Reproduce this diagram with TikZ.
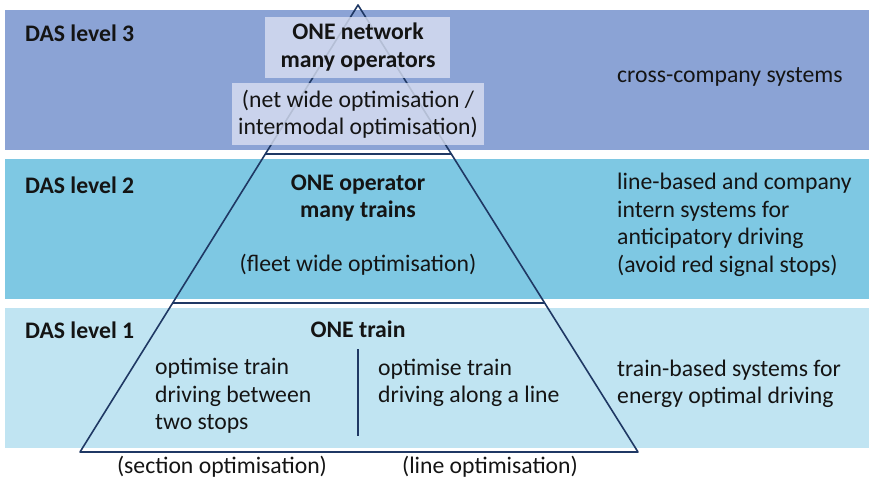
\documentclass[tikz,border=0pt]{standalone}
\usepackage{fontspec}
\setmainfont{Carlito}
\definecolor{bandthree}{RGB}{139,163,213}
\definecolor{bandtwo}{RGB}{126,200,227}
\definecolor{bandone}{RGB}{192,228,242}
\definecolor{boxfill}{RGB}{218,224,242}
\definecolor{navy}{RGB}{31,56,100}
\definecolor{txt}{RGB}{20,20,20}
\begin{document}
\begin{tikzpicture}[x=1pt,y=-1pt,
  lbl/.style={inner sep=0pt,text=txt,font=\fontsize{23.7}{27.5}\selectfont},
  blbl/.style={lbl,font=\fontsize{23.7}{27.5}\selectfont\bfseries},
  edge/.style={draw=navy,line width=1.6pt,line join=round}]
\useasboundingbox (0,0) rectangle (869,482);
% bands
\fill[bandthree] (5,10) rectangle (869,150);
\fill[bandtwo] (5,159) rectangle (869,299);
\fill[bandone] (5,308) rectangle (869,448);
% pyramid
\coordinate (apex) at (358,5);
\coordinate (bl) at (80,452);
\coordinate (br) at (638,452);
\coordinate (l3) at (265,154);
\coordinate (r3) at (451,154);
\coordinate (l2) at (172,303);
\coordinate (r2) at (544,303);
\coordinate (vt) at (358,349);
\coordinate (vb) at (358,436);
\draw[edge] (apex) -- (bl) -- (br) -- cycle;
\draw[edge] (l3) -- (r3);
\draw[edge] (l2) -- (r2);
\draw[edge] (vt) -- (vb);
% boxes in level 3
\fill[boxfill,fill opacity=0.8] (265,17) rectangle (450,78);
\fill[boxfill,fill opacity=0.8] (232,83) rectangle (484,145);
% left labels
\node[blbl,anchor=west] (d3) at (25,33) {DAS level 3};
\node[blbl,anchor=west] (d2) at (25,185) {DAS level 2};
\node[blbl,anchor=west] (d1) at (25,330) {DAS level 1};
% centre texts
\node[blbl,align=center] (net) at (358,47) {ONE network\\many operators};
\node[lbl,align=center] (netopt) at (358,114) {(net wide optimisation /\\intermodal optimisation)};
\node[blbl,align=center] (op) at (358,198) {ONE operator\\many trains};
\node[lbl] (fleet) at (358,265) {(fleet wide optimisation)};
\node[blbl] (train) at (358,329) {ONE train};
\node[lbl,align=left,anchor=west] (sec) at (155,396) {optimise train\\driving between\\two stops};
\node[lbl,align=left,anchor=west] (line) at (378,383) {optimise train\\driving along a line};
\node[lbl] (secopt) at (222,467) {(section optimisation)};
\node[lbl] (lineopt) at (490,467) {(line optimisation)};
% right texts
\node[lbl,anchor=west] (r3t) at (617,77) {cross-company systems};
\node[lbl,align=left,anchor=west] (r2t) at (617,225) {line-based and company\\intern systems for\\anticipatory driving\\(avoid red signal stops)};
\node[lbl,align=left,anchor=west] (r1t) at (617,384) {train-based systems for\\energy optimal driving};
\end{tikzpicture}
\end{document}
